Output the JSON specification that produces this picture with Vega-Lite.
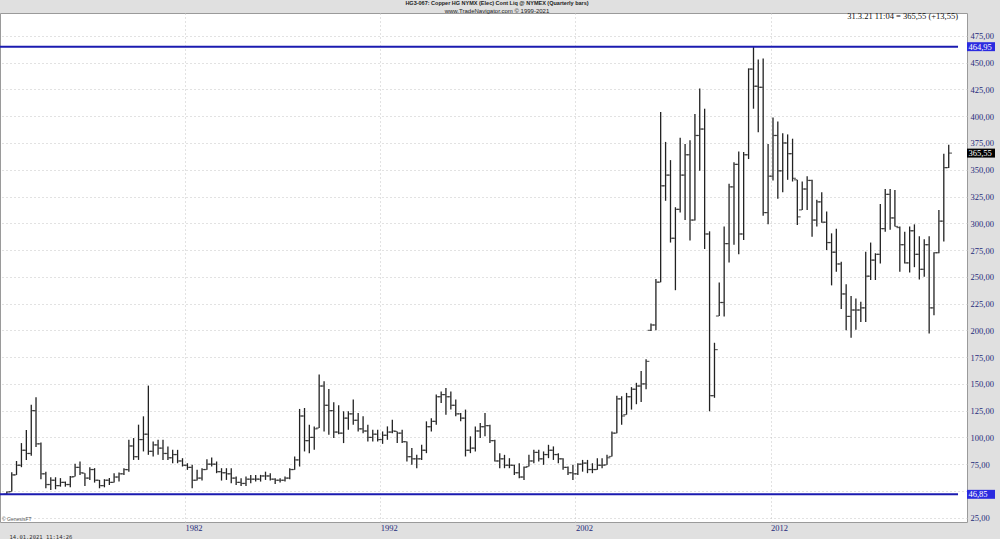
{
 "$schema": "https://vega.github.io/schema/vega-lite/v6.json",
 "width": 967,
 "height": 509,
 "autosize": {"type": "none"},
 "padding": {"left": 0, "top": 13, "right": 33, "bottom": 17},
 "background": "#e0e0e0",
 "title": {"text": "HG3-067:  Copper HG NYMX (Elec) Cont Liq @ NYMEX  (Quarterly bars)", "subtitle": "www.TradeNavigator.com © 1999-2021", "anchor": "middle", "frame": "bounds", "font": "Liberation Sans", "fontSize": 5.5, "fontWeight": "bold", "color": "#222", "subtitleFont": "Liberation Sans", "subtitleFontSize": 6, "subtitleColor": "#222", "subtitlePadding": 1, "offset": -2},
 "config": {"view": {"fill": "white", "stroke": "#9a9a9a", "strokeWidth": 1}, "axis": {"labelOverlap": false, "labelFlush": false}},
 "datasets": {
  "bars": [
{"d":"1972-11-15","o":47,"h":49.4,"l":46.85,"c":49},
{"d":"1973-02-15","o":49.4,"h":67.5,"l":49.4,"c":65},
{"d":"1973-05-15","o":65,"h":78,"l":65,"c":74},
{"d":"1973-08-15","o":74,"h":94.7,"l":72.2,"c":88},
{"d":"1973-11-15","o":88,"h":107,"l":79,"c":85},
{"d":"1974-02-15","o":85,"h":130.6,"l":82.8,"c":125},
{"d":"1974-05-15","o":125,"h":137.5,"l":91,"c":94},
{"d":"1974-08-15","o":94,"h":95.3,"l":61,"c":66},
{"d":"1974-11-15","o":66,"h":68,"l":52.5,"c":56},
{"d":"1975-02-15","o":56,"h":62.8,"l":51,"c":60},
{"d":"1975-05-15","o":60,"h":62.8,"l":51.6,"c":55},
{"d":"1975-08-15","o":55,"h":62,"l":54,"c":58},
{"d":"1975-11-15","o":58,"h":58.8,"l":54,"c":56},
{"d":"1976-02-15","o":56,"h":64,"l":53.4,"c":63},
{"d":"1976-05-15","o":63.4,"h":75.3,"l":63.4,"c":72},
{"d":"1976-08-15","o":72,"h":77.5,"l":65,"c":67},
{"d":"1976-11-15","o":66.6,"h":66.6,"l":54.7,"c":62},
{"d":"1977-02-15","o":62,"h":72.2,"l":60.3,"c":70},
{"d":"1977-05-15","o":70,"h":71.3,"l":57.8,"c":60},
{"d":"1977-08-15","o":60,"h":60.3,"l":52.5,"c":55},
{"d":"1977-11-15","o":55,"h":61,"l":53.4,"c":60},
{"d":"1978-02-15","o":60,"h":62,"l":55.6,"c":58},
{"d":"1978-05-15","o":58,"h":66.6,"l":57.8,"c":63},
{"d":"1978-08-15","o":63,"h":67.2,"l":58.75,"c":66},
{"d":"1978-11-15","o":66,"h":71.3,"l":65,"c":70},
{"d":"1979-02-15","o":70,"h":97.8,"l":68,"c":92},
{"d":"1979-05-15","o":92,"h":99.4,"l":79,"c":82},
{"d":"1979-08-15","o":82,"h":111.9,"l":79,"c":98},
{"d":"1979-11-15","o":98,"h":119.7,"l":86.9,"c":103},
{"d":"1980-02-15","o":103,"h":148.4,"l":83.75,"c":87},
{"d":"1980-05-15","o":87,"h":96.25,"l":82.2,"c":93},
{"d":"1980-08-15","o":93,"h":97.8,"l":83.75,"c":90},
{"d":"1980-11-15","o":90,"h":97.8,"l":79,"c":85},
{"d":"1981-02-15","o":85,"h":91.6,"l":79,"c":81},
{"d":"1981-05-15","o":81,"h":88.4,"l":75.9,"c":84},
{"d":"1981-08-15","o":84,"h":88.4,"l":75.9,"c":78},
{"d":"1981-11-15","o":78,"h":80.6,"l":72.8,"c":74},
{"d":"1982-02-15","o":74,"h":75.9,"l":69.7,"c":72},
{"d":"1982-05-15","o":72,"h":74.4,"l":52.5,"c":60},
{"d":"1982-08-15","o":60,"h":69.7,"l":59.7,"c":62},
{"d":"1982-11-15","o":62,"h":71.25,"l":59.7,"c":70},
{"d":"1983-02-15","o":70,"h":79.7,"l":69.7,"c":75},
{"d":"1983-05-15","o":75,"h":81.25,"l":72.8,"c":75},
{"d":"1983-08-15","o":75,"h":77.5,"l":66.6,"c":68},
{"d":"1983-11-15","o":68,"h":71.25,"l":59.7,"c":67},
{"d":"1984-02-15","o":67,"h":71.25,"l":60.3,"c":66},
{"d":"1984-05-15","o":66,"h":71.25,"l":57.2,"c":62},
{"d":"1984-08-15","o":62,"h":63.4,"l":55.6,"c":58},
{"d":"1984-11-15","o":58,"h":61.9,"l":54.7,"c":57},
{"d":"1985-02-15","o":57,"h":63.4,"l":54.7,"c":61},
{"d":"1985-05-15","o":61,"h":65,"l":57.2,"c":61},
{"d":"1985-08-15","o":61,"h":65,"l":58.75,"c":61},
{"d":"1985-11-15","o":61,"h":65,"l":58.75,"c":64},
{"d":"1986-02-15","o":64,"h":68,"l":60.3,"c":64},
{"d":"1986-05-15","o":64,"h":66.6,"l":59.7,"c":61},
{"d":"1986-08-15","o":61,"h":61.9,"l":56.6,"c":60},
{"d":"1986-11-15","o":60,"h":61.9,"l":57.8,"c":60},
{"d":"1987-02-15","o":60,"h":63.4,"l":58.75,"c":62},
{"d":"1987-05-15","o":62,"h":71.25,"l":61,"c":70},
{"d":"1987-08-15","o":70,"h":82.2,"l":69.7,"c":79},
{"d":"1987-11-15","o":79,"h":126.6,"l":72.8,"c":120},
{"d":"1988-02-15","o":120,"h":127.5,"l":86.9,"c":97},
{"d":"1988-05-15","o":97,"h":111.9,"l":85.3,"c":100},
{"d":"1988-08-15","o":100,"h":110.3,"l":88.4,"c":108},
{"d":"1988-11-15","o":108.75,"h":158.75,"l":108.75,"c":148},
{"d":"1989-02-15","o":148,"h":152.5,"l":105.6,"c":130},
{"d":"1989-05-15","o":130,"h":145.3,"l":102.5,"c":125},
{"d":"1989-08-15","o":125,"h":132.8,"l":99.4,"c":105},
{"d":"1989-11-15","o":105,"h":130,"l":103,"c":104},
{"d":"1990-02-15","o":104,"h":124.4,"l":94.7,"c":118},
{"d":"1990-05-15","o":118,"h":124.4,"l":107.2,"c":122},
{"d":"1990-08-15","o":122,"h":135.3,"l":111.9,"c":116},
{"d":"1990-11-15","o":116,"h":122.8,"l":105.6,"c":108},
{"d":"1991-02-15","o":108,"h":119.7,"l":104,"c":106},
{"d":"1991-05-15","o":106,"h":111.9,"l":96.25,"c":100},
{"d":"1991-08-15","o":100,"h":107.2,"l":96.25,"c":103},
{"d":"1991-11-15","o":103,"h":107.2,"l":96.25,"c":98},
{"d":"1992-02-15","o":98,"h":105.6,"l":94,"c":102},
{"d":"1992-05-15","o":102,"h":110.3,"l":97.8,"c":105},
{"d":"1992-08-15","o":105,"h":116.6,"l":104,"c":106},
{"d":"1992-11-15","o":105.6,"h":105.6,"l":94.7,"c":104},
{"d":"1993-02-15","o":104,"h":107.2,"l":94.7,"c":96},
{"d":"1993-05-15","o":96,"h":96.25,"l":77.5,"c":82},
{"d":"1993-08-15","o":82,"h":90,"l":74.4,"c":80},
{"d":"1993-11-15","o":80,"h":83.75,"l":71.25,"c":80},
{"d":"1994-02-15","o":80,"h":93.1,"l":79,"c":88},
{"d":"1994-05-15","o":88,"h":115,"l":85.3,"c":110},
{"d":"1994-08-15","o":110,"h":118,"l":105.6,"c":115},
{"d":"1994-11-15","o":115,"h":140,"l":111.9,"c":138},
{"d":"1995-02-15","o":138,"h":143,"l":132.2,"c":140},
{"d":"1995-05-15","o":140,"h":146.25,"l":121.25,"c":138},
{"d":"1995-08-15","o":138,"h":143,"l":126,"c":130},
{"d":"1995-11-15","o":130,"h":135.3,"l":119.7,"c":122},
{"d":"1996-02-15","o":122,"h":122.8,"l":115,"c":118},
{"d":"1996-05-15","o":118,"h":126,"l":82.2,"c":88},
{"d":"1996-08-15","o":88,"h":101,"l":85.3,"c":90},
{"d":"1996-11-15","o":90,"h":110.3,"l":86.9,"c":106},
{"d":"1997-02-15","o":106,"h":113.4,"l":99.4,"c":110},
{"d":"1997-05-15","o":110,"h":122.8,"l":101,"c":111},
{"d":"1997-08-15","o":111,"h":111.9,"l":94.7,"c":97},
{"d":"1997-11-15","o":97,"h":97.8,"l":77.5,"c":78},
{"d":"1998-02-15","o":78,"h":85.3,"l":71.25,"c":80},
{"d":"1998-05-15","o":80,"h":83.75,"l":71.25,"c":74},
{"d":"1998-08-15","o":74,"h":80.6,"l":71.25,"c":74},
{"d":"1998-11-15","o":74,"h":74.4,"l":65,"c":67},
{"d":"1999-02-15","o":67,"h":75.9,"l":61.9,"c":63},
{"d":"1999-05-15","o":63,"h":72.8,"l":60.3,"c":72},
{"d":"1999-08-15","o":72.8,"h":83.75,"l":72.8,"c":78},
{"d":"1999-11-15","o":78,"h":88.4,"l":75.9,"c":86},
{"d":"2000-02-15","o":86,"h":88.4,"l":77.5,"c":80},
{"d":"2000-05-15","o":80,"h":86.9,"l":74.4,"c":84},
{"d":"2000-08-15","o":84,"h":93.1,"l":80.6,"c":88},
{"d":"2000-11-15","o":88,"h":91.6,"l":79,"c":84},
{"d":"2001-02-15","o":84,"h":85.3,"l":75.9,"c":80},
{"d":"2001-05-15","o":80,"h":80.6,"l":69.7,"c":72},
{"d":"2001-08-15","o":72,"h":72.8,"l":65,"c":67},
{"d":"2001-11-15","o":67,"h":74.4,"l":60.3,"c":66},
{"d":"2002-02-15","o":66,"h":75.9,"l":65,"c":75},
{"d":"2002-05-15","o":75,"h":79,"l":68,"c":76},
{"d":"2002-08-15","o":76,"h":79,"l":66.6,"c":70},
{"d":"2002-11-15","o":70,"h":75.9,"l":66.6,"c":70},
{"d":"2003-02-15","o":70,"h":80.6,"l":69.7,"c":74},
{"d":"2003-05-15","o":74,"h":80.6,"l":71.25,"c":74},
{"d":"2003-08-15","o":74.4,"h":83.75,"l":74.4,"c":81},
{"d":"2003-11-15","o":82.2,"h":105.6,"l":82.2,"c":104},
{"d":"2004-02-15","o":104,"h":139,"l":104,"c":136},
{"d":"2004-05-15","o":136,"h":138.4,"l":111.9,"c":120},
{"d":"2004-08-15","o":121.25,"h":141.6,"l":121.25,"c":138},
{"d":"2004-11-15","o":138,"h":147,"l":126,"c":145},
{"d":"2005-02-15","o":145,"h":151,"l":131,"c":148},
{"d":"2005-05-15","o":148,"h":162,"l":133,"c":150},
{"d":"2005-08-15","o":150,"h":173,"l":145,"c":171},
{"d":"2005-11-15","o":200,"h":206.5,"l":199.5,"c":205},
{"d":"2006-02-15","o":205,"h":248,"l":200,"c":245},
{"d":"2006-05-15","o":245,"h":404,"l":245,"c":335},
{"d":"2006-08-15","o":335,"h":376,"l":321,"c":345},
{"d":"2006-11-15","o":345,"h":359,"l":282,"c":286},
{"d":"2007-02-15","o":286,"h":315,"l":237.5,"c":313},
{"d":"2007-05-15","o":313,"h":380,"l":310,"c":345},
{"d":"2007-08-15","o":345,"h":374,"l":303,"c":364},
{"d":"2007-11-15","o":364,"h":377.5,"l":284,"c":303},
{"d":"2008-02-15","o":303,"h":402,"l":302.5,"c":382},
{"d":"2008-05-15","o":382,"h":426,"l":349,"c":388},
{"d":"2008-08-15","o":388,"h":407,"l":276,"c":290},
{"d":"2008-11-15","o":290,"h":292.5,"l":124.4,"c":139},
{"d":"2009-02-15","o":139,"h":188.4,"l":137,"c":182},
{"d":"2009-05-15","o":213.4,"h":244.7,"l":213.4,"c":226},
{"d":"2009-08-15","o":226,"h":297,"l":213,"c":281},
{"d":"2009-11-15","o":281,"h":337,"l":263.4,"c":334},
{"d":"2010-02-15","o":334,"h":357,"l":280,"c":355},
{"d":"2010-05-15","o":355,"h":367,"l":271,"c":290},
{"d":"2010-08-15","o":290,"h":366.6,"l":284.4,"c":364},
{"d":"2010-11-15","o":364,"h":444.7,"l":360,"c":444},
{"d":"2011-02-15","o":444,"h":464.95,"l":407,"c":428},
{"d":"2011-05-15","o":428,"h":453,"l":385,"c":427},
{"d":"2011-08-15","o":427,"h":454,"l":307,"c":310},
{"d":"2011-11-15","o":310,"h":374,"l":299,"c":344},
{"d":"2012-02-15","o":344,"h":398.7,"l":340,"c":382},
{"d":"2012-05-15","o":382,"h":395,"l":323,"c":349},
{"d":"2012-08-15","o":349,"h":384,"l":329,"c":375},
{"d":"2012-11-15","o":375,"h":383,"l":340.6,"c":365},
{"d":"2013-02-15","o":365,"h":379,"l":339,"c":342},
{"d":"2013-05-15","o":340.6,"h":340.6,"l":298.4,"c":306},
{"d":"2013-08-15","o":312.5,"h":339,"l":312.5,"c":332},
{"d":"2013-11-15","o":332,"h":344,"l":312.5,"c":340},
{"d":"2014-02-15","o":340,"h":340.6,"l":287.5,"c":303},
{"d":"2014-05-15","o":303,"h":322,"l":297,"c":320},
{"d":"2014-08-15","o":320,"h":329,"l":300.6,"c":301},
{"d":"2014-11-15","o":301,"h":311,"l":275,"c":282},
{"d":"2015-02-15","o":282,"h":290.6,"l":242,"c":273},
{"d":"2015-05-15","o":273,"h":295,"l":254.7,"c":262},
{"d":"2015-08-15","o":262,"h":264,"l":220,"c":234},
{"d":"2015-11-15","o":234,"h":243,"l":200,"c":213},
{"d":"2016-02-15","o":213,"h":232,"l":193,"c":219},
{"d":"2016-05-15","o":219,"h":229.7,"l":200.6,"c":219},
{"d":"2016-08-15","o":219,"h":226.6,"l":207.8,"c":221},
{"d":"2016-11-15","o":221,"h":273.4,"l":207.8,"c":250.6},
{"d":"2017-02-15","o":250.6,"h":282,"l":247,"c":265.6},
{"d":"2017-05-15","o":265.6,"h":272,"l":247,"c":271},
{"d":"2017-08-15","o":271,"h":318,"l":262.5,"c":295},
{"d":"2017-11-15","o":295,"h":332,"l":292,"c":327},
{"d":"2018-02-15","o":327,"h":332,"l":294,"c":305},
{"d":"2018-05-15","o":305,"h":331,"l":297,"c":297},
{"d":"2018-08-15","o":296,"h":297,"l":254.7,"c":280},
{"d":"2018-11-15","o":280,"h":292,"l":262.5,"c":263},
{"d":"2019-02-15","o":263,"h":297,"l":254,"c":293},
{"d":"2019-05-15","o":293,"h":299,"l":259,"c":271},
{"d":"2019-08-15","o":271,"h":288,"l":247.5,"c":257},
{"d":"2019-11-15","o":257,"h":285,"l":250,"c":280},
{"d":"2020-02-15","o":280,"h":288,"l":197,"c":221},
{"d":"2020-05-15","o":221,"h":273,"l":214,"c":272.5},
{"d":"2020-08-15","o":272.5,"h":312.5,"l":272,"c":302},
{"d":"2020-11-15","o":302,"h":365,"l":283,"c":352},
{"d":"2021-02-15","o":352,"h":373.4,"l":351.6,"c":365.55}
  ],
  "lvl": [
   {"v": 464.95, "t": "464,95", "k": "ext"},
   {"v": 46.85, "t": "46,85", "k": "ext"},
   {"v": 365.55, "t": "365,55", "k": "last"}
  ]
 },
 "layer": [
  {
   "data": {"name": "bars"},
   "mark": {"type": "rule", "color": "#222222", "strokeWidth": 1.3},
   "encoding": {
    "x": {"field": "d", "type": "temporal",
     "scale": {"domain": [{"year": 1972, "month": 7, "date": 10}, {"year": 2022, "month": 1, "date": 23}]},
     "axis": {"values": [{"year": 1982}, {"year": 1992}, {"year": 2002}, {"year": 2012}], "format": "%Y", "labelAlign": "left", "labelBaseline": "top", "labelPadding": 1, "ticks": false, "domain": false, "grid": true, "gridColor": "#c4c4c4", "gridDash": [1, 3], "labelFont": "Liberation Serif", "labelFontSize": 8.5, "labelColor": "#1f2a7a", "title": "14.01.2021 11:14:26", "titleFont": "DejaVu Sans Mono", "titleFontSize": 5.5, "titleFontWeight": "normal", "titleColor": "#333333", "titleX": 9, "titleY": 14, "titleAlign": "left", "titleBaseline": "middle", "titleAngle": 0}},
    "y": {"field": "l", "type": "quantitative",
     "scale": {"domain": [21, 496.4], "nice": false, "zero": false},
     "axis": {"orient": "right", "values": [25, 50, 75, 100, 125, 150, 175, 200, 225, 250, 275, 300, 325, 350, 375, 400, 425, 450, 475], "labelExpr": "datum.value == 50 ? '' : replace(format(datum.value, '.2f'), '.', ',')", "labelOverlap": false, "labelFlush": false, "ticks": false, "domain": false, "grid": true, "gridColor": "#c4c4c4", "gridDash": [1, 3], "labelPadding": 3, "labelFont": "Liberation Serif", "labelFontSize": 8.5, "labelColor": "#1f2a7a", "title": null}},
    "y2": {"field": "h"}
   }
  },
  {
   "data": {"name": "bars"},
   "mark": {"type": "tick", "orient": "horizontal", "size": 3, "thickness": 1.2, "color": "#222222", "xOffset": -1.8},
   "encoding": {
    "x": {"field": "d", "type": "temporal", "axis": {"values": [{"year": 1982}, {"year": 1992}, {"year": 2002}, {"year": 2012}], "format": "%Y", "labelAlign": "left", "labelBaseline": "top", "labelPadding": 1, "ticks": false, "domain": false, "grid": true, "gridColor": "#c4c4c4", "gridDash": [1, 3], "labelFont": "Liberation Serif", "labelFontSize": 8.5, "labelColor": "#1f2a7a", "title": "14.01.2021 11:14:26", "titleFont": "DejaVu Sans Mono", "titleFontSize": 5.5, "titleFontWeight": "normal", "titleColor": "#333333", "titleX": 9, "titleY": 14, "titleAlign": "left", "titleBaseline": "middle", "titleAngle": 0}},
    "y": {"field": "o", "type": "quantitative", "axis": {"orient": "right", "values": [25, 50, 75, 100, 125, 150, 175, 200, 225, 250, 275, 300, 325, 350, 375, 400, 425, 450, 475], "labelExpr": "datum.value == 50 ? '' : replace(format(datum.value, '.2f'), '.', ',')", "labelOverlap": false, "labelFlush": false, "ticks": false, "domain": false, "grid": true, "gridColor": "#c4c4c4", "gridDash": [1, 3], "labelPadding": 3, "labelFont": "Liberation Serif", "labelFontSize": 8.5, "labelColor": "#1f2a7a", "title": null}}
   }
  },
  {
   "data": {"name": "bars"},
   "mark": {"type": "tick", "orient": "horizontal", "size": 3, "thickness": 1.2, "color": "#222222", "xOffset": 1.8},
   "encoding": {
    "x": {"field": "d", "type": "temporal", "axis": {"values": [{"year": 1982}, {"year": 1992}, {"year": 2002}, {"year": 2012}], "format": "%Y", "labelAlign": "left", "labelBaseline": "top", "labelPadding": 1, "ticks": false, "domain": false, "grid": true, "gridColor": "#c4c4c4", "gridDash": [1, 3], "labelFont": "Liberation Serif", "labelFontSize": 8.5, "labelColor": "#1f2a7a", "title": "14.01.2021 11:14:26", "titleFont": "DejaVu Sans Mono", "titleFontSize": 5.5, "titleFontWeight": "normal", "titleColor": "#333333", "titleX": 9, "titleY": 14, "titleAlign": "left", "titleBaseline": "middle", "titleAngle": 0}},
    "y": {"field": "c", "type": "quantitative", "axis": {"orient": "right", "values": [25, 50, 75, 100, 125, 150, 175, 200, 225, 250, 275, 300, 325, 350, 375, 400, 425, 450, 475], "labelExpr": "datum.value == 50 ? '' : replace(format(datum.value, '.2f'), '.', ',')", "labelOverlap": false, "labelFlush": false, "ticks": false, "domain": false, "grid": true, "gridColor": "#c4c4c4", "gridDash": [1, 3], "labelPadding": 3, "labelFont": "Liberation Serif", "labelFontSize": 8.5, "labelColor": "#1f2a7a", "title": null}}
   }
  },
  {
   "data": {"name": "lvl"},
   "transform": [{"filter": "datum.k == 'ext'"}],
   "mark": {"type": "rule", "color": "#1b1bb0", "strokeWidth": 2},
   "encoding": {
    "x": {"datum": {"year": 1972, "month": 7, "date": 10}, "type": "temporal", "axis": {"values": [{"year": 1982}, {"year": 1992}, {"year": 2002}, {"year": 2012}], "format": "%Y", "labelAlign": "left", "labelBaseline": "top", "labelPadding": 1, "ticks": false, "domain": false, "grid": true, "gridColor": "#c4c4c4", "gridDash": [1, 3], "labelFont": "Liberation Serif", "labelFontSize": 8.5, "labelColor": "#1f2a7a", "title": "14.01.2021 11:14:26", "titleFont": "DejaVu Sans Mono", "titleFontSize": 5.5, "titleFontWeight": "normal", "titleColor": "#333333", "titleX": 9, "titleY": 14, "titleAlign": "left", "titleBaseline": "middle", "titleAngle": 0}},
    "x2": {"datum": {"year": 2021, "month": 8, "date": 8}},
    "y": {"field": "v", "type": "quantitative", "axis": {"orient": "right", "values": [25, 50, 75, 100, 125, 150, 175, 200, 225, 250, 275, 300, 325, 350, 375, 400, 425, 450, 475], "labelExpr": "datum.value == 50 ? '' : replace(format(datum.value, '.2f'), '.', ',')", "labelOverlap": false, "labelFlush": false, "ticks": false, "domain": false, "grid": true, "gridColor": "#c4c4c4", "gridDash": [1, 3], "labelPadding": 3, "labelFont": "Liberation Serif", "labelFontSize": 8.5, "labelColor": "#1f2a7a", "title": null}}
   }
  },
  {
   "data": {"name": "lvl"},
   "mark": {"type": "point", "shape": "M-1,-0.32L1,-0.32L1,0.32L-1,0.32Z", "filled": true, "size": 784, "opacity": 1, "clip": false},
   "encoding": {
    "x": {"datum": {"year": 2022, "month": 10, "date": 12}, "type": "temporal", "axis": {"values": [{"year": 1982}, {"year": 1992}, {"year": 2002}, {"year": 2012}], "format": "%Y", "labelAlign": "left", "labelBaseline": "top", "labelPadding": 1, "ticks": false, "domain": false, "grid": true, "gridColor": "#c4c4c4", "gridDash": [1, 3], "labelFont": "Liberation Serif", "labelFontSize": 8.5, "labelColor": "#1f2a7a", "title": "14.01.2021 11:14:26", "titleFont": "DejaVu Sans Mono", "titleFontSize": 5.5, "titleFontWeight": "normal", "titleColor": "#333333", "titleX": 9, "titleY": 14, "titleAlign": "left", "titleBaseline": "middle", "titleAngle": 0}},
    "y": {"field": "v", "type": "quantitative", "axis": {"orient": "right", "values": [25, 50, 75, 100, 125, 150, 175, 200, 225, 250, 275, 300, 325, 350, 375, 400, 425, 450, 475], "labelExpr": "datum.value == 50 ? '' : replace(format(datum.value, '.2f'), '.', ',')", "labelOverlap": false, "labelFlush": false, "ticks": false, "domain": false, "grid": true, "gridColor": "#c4c4c4", "gridDash": [1, 3], "labelPadding": 3, "labelFont": "Liberation Serif", "labelFontSize": 8.5, "labelColor": "#1f2a7a", "title": null}},
    "color": {"field": "k", "type": "nominal", "scale": {"domain": ["ext", "last"], "range": ["#2b2be0", "#000000"]}, "legend": null}
   }
  },
  {
   "data": {"name": "lvl"},
   "mark": {"type": "text", "align": "left", "baseline": "middle", "font": "Liberation Serif", "fontSize": 8.5, "color": "white", "clip": false},
   "encoding": {
    "x": {"datum": {"year": 2022, "month": 2, "date": 20}, "type": "temporal", "axis": {"values": [{"year": 1982}, {"year": 1992}, {"year": 2002}, {"year": 2012}], "format": "%Y", "labelAlign": "left", "labelBaseline": "top", "labelPadding": 1, "ticks": false, "domain": false, "grid": true, "gridColor": "#c4c4c4", "gridDash": [1, 3], "labelFont": "Liberation Serif", "labelFontSize": 8.5, "labelColor": "#1f2a7a", "title": "14.01.2021 11:14:26", "titleFont": "DejaVu Sans Mono", "titleFontSize": 5.5, "titleFontWeight": "normal", "titleColor": "#333333", "titleX": 9, "titleY": 14, "titleAlign": "left", "titleBaseline": "middle", "titleAngle": 0}},
    "y": {"field": "v", "type": "quantitative", "axis": {"orient": "right", "values": [25, 50, 75, 100, 125, 150, 175, 200, 225, 250, 275, 300, 325, 350, 375, 400, 425, 450, 475], "labelExpr": "datum.value == 50 ? '' : replace(format(datum.value, '.2f'), '.', ',')", "labelOverlap": false, "labelFlush": false, "ticks": false, "domain": false, "grid": true, "gridColor": "#c4c4c4", "gridDash": [1, 3], "labelPadding": 3, "labelFont": "Liberation Serif", "labelFontSize": 8.5, "labelColor": "#1f2a7a", "title": null}},
    "text": {"field": "t"}
   }
  },
  {
   "data": {"values": [{"t": "31.3.21 11:04 = 365,55 (+13,55)"}]},
   "mark": {"type": "text", "align": "right", "baseline": "middle", "font": "Liberation Serif", "fontSize": 8.5, "color": "#111111"},
   "encoding": {
    "x": {"datum": {"year": 2021, "month": 8, "date": 8}, "type": "temporal", "axis": {"values": [{"year": 1982}, {"year": 1992}, {"year": 2002}, {"year": 2012}], "format": "%Y", "labelAlign": "left", "labelBaseline": "top", "labelPadding": 1, "ticks": false, "domain": false, "grid": true, "gridColor": "#c4c4c4", "gridDash": [1, 3], "labelFont": "Liberation Serif", "labelFontSize": 8.5, "labelColor": "#1f2a7a", "title": "14.01.2021 11:14:26", "titleFont": "DejaVu Sans Mono", "titleFontSize": 5.5, "titleFontWeight": "normal", "titleColor": "#333333", "titleX": 9, "titleY": 14, "titleAlign": "left", "titleBaseline": "middle", "titleAngle": 0}},
    "y": {"datum": 493.9, "type": "quantitative", "axis": {"orient": "right", "values": [25, 50, 75, 100, 125, 150, 175, 200, 225, 250, 275, 300, 325, 350, 375, 400, 425, 450, 475], "labelExpr": "datum.value == 50 ? '' : replace(format(datum.value, '.2f'), '.', ',')", "labelOverlap": false, "labelFlush": false, "ticks": false, "domain": false, "grid": true, "gridColor": "#c4c4c4", "gridDash": [1, 3], "labelPadding": 3, "labelFont": "Liberation Serif", "labelFontSize": 8.5, "labelColor": "#1f2a7a", "title": null}},
    "text": {"field": "t"}
   }
  },
  {
   "data": {"values": [{"t": "© GenesisFT"}]},
   "mark": {"type": "text", "align": "left", "baseline": "middle", "font": "Liberation Sans", "fontSize": 5, "color": "#555555"},
   "encoding": {
    "x": {"datum": {"year": 1972, "month": 8, "date": 17}, "type": "temporal", "axis": {"values": [{"year": 1982}, {"year": 1992}, {"year": 2002}, {"year": 2012}], "format": "%Y", "labelAlign": "left", "labelBaseline": "top", "labelPadding": 1, "ticks": false, "domain": false, "grid": true, "gridColor": "#c4c4c4", "gridDash": [1, 3], "labelFont": "Liberation Serif", "labelFontSize": 8.5, "labelColor": "#1f2a7a", "title": "14.01.2021 11:14:26", "titleFont": "DejaVu Sans Mono", "titleFontSize": 5.5, "titleFontWeight": "normal", "titleColor": "#333333", "titleX": 9, "titleY": 14, "titleAlign": "left", "titleBaseline": "middle", "titleAngle": 0}},
    "y": {"datum": 23.8, "type": "quantitative", "axis": {"orient": "right", "values": [25, 50, 75, 100, 125, 150, 175, 200, 225, 250, 275, 300, 325, 350, 375, 400, 425, 450, 475], "labelExpr": "datum.value == 50 ? '' : replace(format(datum.value, '.2f'), '.', ',')", "labelOverlap": false, "labelFlush": false, "ticks": false, "domain": false, "grid": true, "gridColor": "#c4c4c4", "gridDash": [1, 3], "labelPadding": 3, "labelFont": "Liberation Serif", "labelFontSize": 8.5, "labelColor": "#1f2a7a", "title": null}},
    "text": {"field": "t"}
   }
  }
 ]
}
